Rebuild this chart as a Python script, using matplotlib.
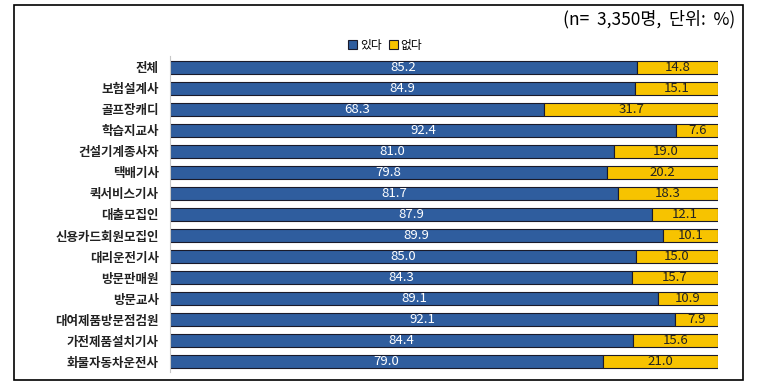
import numpy as np
import matplotlib
matplotlib.use("Agg")
import matplotlib.pyplot as plt
from matplotlib.patches import Rectangle

plt.rcParams['font.family'] = ['Noto Sans CJK KR', 'DejaVu Sans']

categories = ['전체', '보험설계사', '골프장캐디', '학습지교사', '건설기계종사자', '택배기사',
              '퀵서비스기사', '대출모집인', '신용카드회원모집인', '대리운전기사', '방문판매원',
              '방문교사', '대여제품방문점검원', '가전제품설치기사', '화물자동차운전사']
yes_vals = [85.2, 84.9, 68.3, 92.4, 81.0, 79.8, 81.7, 87.9, 89.9, 85.0, 84.3, 89.1, 92.1, 84.4, 79.0]
no_vals = [14.8, 15.1, 31.7, 7.6, 19.0, 20.2, 18.3, 12.1, 10.1, 15.0, 15.7, 10.9, 7.9, 15.6, 21.0]
series_names = ['있다', '없다']

blue = '#2F5D9E'
yellow = '#F7C300'

fig = plt.figure(figsize=(7.66, 3.91), dpi=100)
ax = fig.add_axes([170/766, 1-372.5/391, (718-170)/766, (372.5-56.5)/391])

y = np.arange(len(categories))
b1 = ax.barh(y, yes_vals, height=0.62, color=blue, edgecolor='#1a1a2a', linewidth=0.8, label=series_names[0])
b2 = ax.barh(y, no_vals, left=yes_vals, height=0.62, color=yellow, edgecolor='#1a1a2a', linewidth=0.8, label=series_names[1])

for i in range(len(categories)):
    ax.text(yes_vals[i] / 2, y[i], f'{yes_vals[i]:.1f}', ha='center', va='center',
            color='white', fontsize=9.5)
    ax.text(yes_vals[i] + no_vals[i] / 2, y[i], f'{no_vals[i]:.1f}', ha='center', va='center',
            color='#222222', fontsize=9.5)

ax.set_xlim(0, 100)
ax.set_ylim(len(categories) - 0.5, -0.5)
ax.set_yticks(y)
ax.set_yticklabels(categories, fontsize=9, fontweight='bold', color='#222222')
ax.tick_params(axis='y', length=0, pad=8)
ax.set_xticks([])
for s in ['top', 'right', 'bottom']:
    ax.spines[s].set_visible(False)
ax.spines['left'].set_color('#c8c8c8')
ax.spines['left'].set_linewidth(0.8)

fig.legend(handles=[b1, b2], loc='center', bbox_to_anchor=(385/766, 1-45/391), ncol=2,
           frameon=False, fontsize=8.5, handlelength=0.8, handleheight=0.8,
           handletextpad=0.2, columnspacing=0.6)

fig.text(735/766, 1-19/391, '(n=  3,350명,  단위:  %)', ha='right', va='center', fontsize=12.5)

fig.add_artist(Rectangle((14/766, 1-380/391), (743-14)/766, (380-5)/391,
                         transform=fig.transFigure, fill=False, edgecolor='black', linewidth=1.2))

fig.savefig('out.png', dpi=100)
